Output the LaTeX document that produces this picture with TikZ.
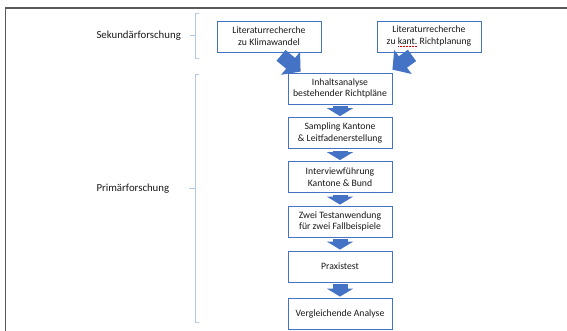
\documentclass[tikz,border=0pt]{standalone}
\usepackage{fontspec}
\setmainfont{Carlito}
\usetikzlibrary{arrows.meta}
\definecolor{boxblue}{RGB}{68,114,196}
\definecolor{bracegray}{RGB}{180,199,231}
\definecolor{framegray}{RGB}{89,89,89}
% red dotted spell-check mark under a word
\newcommand\spellmark[1]{\setbox0\hbox{#1}\rlap{\color{red!85!black}\raisebox{-2.2pt}{\hbox to\wd0{\xleaders\hbox to 1.4pt{\hss\rule{0.7pt}{0.6pt}\hss}\hfill}}}\box0\relax}
\tikzset{
  stepbox/.style={draw=boxblue, line width=0.8pt, fill=white, minimum width=104pt, minimum height=31pt,
    align=center, inner sep=2pt, text=black!90, font=\fontsize{9.7}{11.7}\selectfont},
  downarrow/.style={boxblue, line width=15pt, -{Triangle[length=8pt,width=26pt]}, shorten <=2pt, shorten >=1pt},
  bigarrow/.style={boxblue, line width=14pt, -{Triangle[length=13pt,width=29pt]}},
  brace/.style={bracegray, line width=0.8pt},
  phase/.style={anchor=west, text=black!90, font=\fontsize{10.8}{13}\selectfont}
}
\begin{document}
\begin{tikzpicture}[x=1pt, y=-1pt]
\useasboundingbox (0,0) rectangle (567,331);
\draw[framegray, line width=1.5pt] (567,8)--(5.5,8)--(5.5,331);

% phases
\node (sek) at (93,35.5)[phase]{Sekundärforschung};
\node (prim) at (93,188.5)[phase]{Primärforschung};
\draw[brace] (199,13)--(195,13)--(195,58)--(199,58);
\draw[brace] (195,35.5)--(190,35.5);
\draw[brace] (199,74)--(195,74)--(195,322)--(199,322);
\draw[brace] (195,188)--(189,188);

% steps
\node (lit1) at (269,36.5)[stepbox]{Literaturrecherche\\zu Klimawandel};
\node (lit2) at (429,36.5)[stepbox]{Literaturrecherche\\zu \spellmark{kant.} Richtplanung};
\node (inh) at (340,88.5)[stepbox]{Inhaltsanalyse\\bestehender Richtpläne};
\node (samp) at (340,133)[stepbox]{Sampling Kantone\\\& Leitfadenerstellung};
\node (intv) at (340,177)[stepbox]{Interviewführung\\Kantone \& Bund};
\node (test) at (340,221.5)[stepbox]{Zwei Testanwendung\\für zwei Fallbeispiele};
\node (prax) at (340,266.5)[stepbox]{Praxistest};
\node (vergl) at (340,313.5)[stepbox]{Vergleichende Analyse};

\draw[bigarrow] ([xshift=12pt,yshift=-3pt]lit1.south)--([xshift=13pt,yshift=1pt]inh.north west);
\draw[bigarrow] ([xshift=-17pt,yshift=-3pt]lit2.south)--([yshift=3pt]inh.north east);
\draw[downarrow] (inh)--(samp);
\draw[downarrow] (samp)--(intv);
\draw[downarrow] (intv)--(test);
\draw[downarrow] (test)--(prax);
\draw[downarrow] (prax)--(vergl);
\end{tikzpicture}
\end{document}
